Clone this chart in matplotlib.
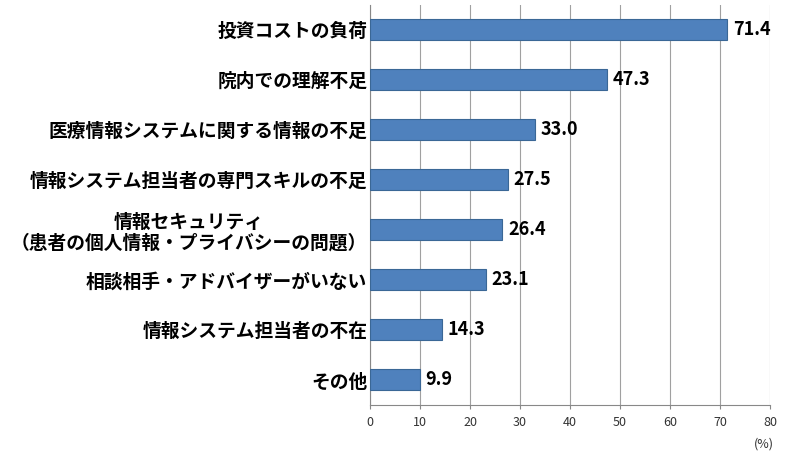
import matplotlib.pyplot as plt

plt.rcParams['font.family'] = ['Noto Sans CJK JP', 'DejaVu Sans']

categories = ['投資コストの負荷', '院内での理解不足', '医療情報システムに関する情報の不足',
              '情報システム担当者の専門スキルの不足',
              '情報セキュリティ\n（患者の個人情報・プライバシーの問題）',
              '相談相手・アドバイザーがいない', '情報システム担当者の不在', 'その他']
values = [71.4, 47.3, 33.0, 27.5, 26.4, 23.1, 14.3, 9.9]
xticks = [0, 10, 20, 30, 40, 50, 60, 70, 80]

fig = plt.figure(figsize=(8, 4.55), dpi=100)
ax = fig.add_axes([0.4625, 0.11, 0.5, 0.88])

ypos = list(range(len(values)))[::-1]
ax.barh(ypos, values, height=0.42, color='#4F81BD', edgecolor='#3A6796', linewidth=0.8, zorder=3)
for y, v in zip(ypos, values):
    ax.text(v + 1.2, y, f'{v:.1f}', va='center', ha='left', fontsize=13, fontweight='bold')

ax.set_xlim(0, 80)
ax.set_ylim(-0.5, len(values) - 0.5)
ax.set_xticks(xticks)
ax.set_xticklabels([str(t) for t in xticks], fontsize=9, color='#333333')
ax.set_yticks(ypos)
ax.set_yticklabels(categories, fontsize=13.5, fontweight='bold', linespacing=1.1)
for lbl in ax.get_yticklabels():
    lbl.set_multialignment('center')
ax.grid(axis='x', color='#A0A0A0', linewidth=0.8, zorder=0)
for s in ['top', 'right']:
    ax.spines[s].set_visible(False)
ax.spines['left'].set_color('#888888')
ax.spines['bottom'].set_color('#888888')
ax.tick_params(axis='y', length=0, pad=2)
ax.tick_params(axis='x', length=3, color='#888888', pad=5)
fig.text(0.955, 0.01, '(%)', fontsize=9, ha='center', va='bottom', color='#333333')

fig.savefig('out.png', dpi=100)
